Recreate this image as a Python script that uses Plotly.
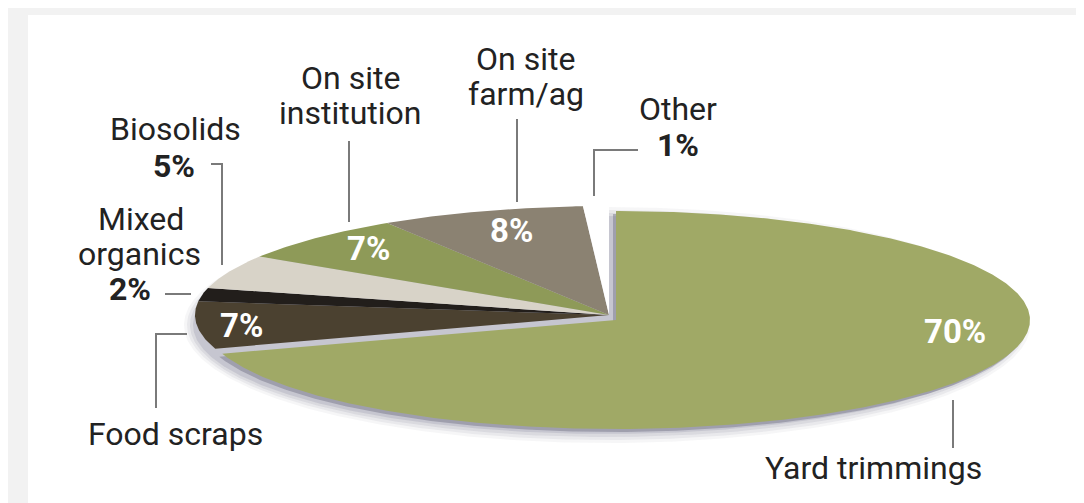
import numpy as np
import plotly.graph_objects as go

# data
categories = ["Yard trimmings", "Food scraps", "Mixed organics", "Biosolids",
              "On site institution", "On site farm/ag", "Other"]
shares = [70, 7, 2, 5, 7, 8, 1]
slice_colors = ["#a0a966", "#4b4130", "#221e1b", "#d8d3c8", "#8e9a58", "#8b8272", "#ffffff"]

# ellipse geometry (pixels), pie is drawn in pixel space
CX, CY = 601, 307
RX, RY = 414, 109
PULL = {0: (7, 5)}          # yard trimmings slice is pulled out a little

FONT = "Roboto"
DARK = "#222222"
LEADER = "#7a7a7a"
LABEL_SIZE = 32


def ellipse_pts(t0, t1, dx=0, dy=0, rx=RX, ry=RY):
    n = max(int((t1 - t0) / 0.5) + 2, 3)
    rad = np.radians(np.linspace(t0, t1, n))
    return CX + dx + rx * np.sin(rad), CY + dy - ry * np.cos(rad)


def wedge(t0, t1, dx=0, dy=0):
    xs, ys = ellipse_pts(t0, t1, dx, dy)
    return (np.concatenate([[CX + dx], xs, [CX + dx]]),
            np.concatenate([[CY + dy], ys, [CY + dy]]))


fig = go.Figure()

# soft drop shadow under the pie
for grow, alpha in [(9, 0.05), (6, 0.07), (3, 0.09), (0, 0.13)]:
    xs, ys = ellipse_pts(0, 360, -2, 10, RX + grow, RY + grow)
    fig.add_trace(go.Scatter(x=xs, y=ys, mode="lines", fill="toself",
                             fillcolor=f"rgba(70,70,105,{alpha})",
                             line=dict(width=0), hoverinfo="skip", showlegend=False))

# slices, clockwise from 12 o'clock
total = sum(shares)
bounds = []
start = 0.0
for v in shares:
    end = start + 360.0 * v / total
    bounds.append((start, end))
    start = end

# shadow of the pulled-out slice
for i, (dx, dy) in PULL.items():
    xs, ys = wedge(*bounds[i], dx - 3, dy + 3)
    fig.add_trace(go.Scatter(x=xs, y=ys, mode="lines", fill="toself",
                             fillcolor="rgba(110,110,130,0.45)", line=dict(width=0),
                             hoverinfo="skip", showlegend=False))

for i, (name, c) in enumerate(zip(categories, slice_colors)):
    dx, dy = PULL.get(i, (0, 0))
    xs, ys = wedge(*bounds[i], dx, dy)
    fig.add_trace(go.Scatter(x=xs, y=ys, mode="lines", fill="toself", fillcolor=c,
                             line=dict(width=0), name=name, hoverinfo="skip",
                             showlegend=False))

# white percentages inside the slices: (index, x, y)
inside = [(0, 947, 323), (5, 503, 222), (4, 360, 240), (1, 233, 317)]
annotations = []
for i, x, y in inside:
    annotations.append(dict(x=x, y=y, text=f"<b>{shares[i]}%</b>", showarrow=False,
                            font=dict(family=FONT, size=33, color="white"),
                            xanchor="center", yanchor="middle", borderpad=0))

# outer labels, one line each: (text, x, y, bold)
outer = [
    ("On site", 342, 70, False), ("institution", 342, 105, False),
    ("On site", 517, 51, False), ("farm/ag", 518, 86, False),
    ("Other", 670, 101, False), (f"{shares[6]}%", 670, 137, True),
    ("Biosolids", 167, 121, False), (f"{shares[3]}%", 166, 158, True),
    ("Mixed", 133, 211, False), ("organics", 131, 246, False), (f"{shares[2]}%", 122, 281, True),
    ("Food scraps", 167, 426, False),
    ("Yard trimmings", 865, 460, False),
]
for text, x, y, bold in outer:
    annotations.append(dict(x=x, y=y, text=f"<b>{text}</b>" if bold else text, showarrow=False,
                            font=dict(family=FONT, size=LABEL_SIZE, color=DARK),
                            xanchor="center", yanchor="middle", borderpad=0))

# leader lines
leaders = [
    [(341, 133), (341, 214)],
    [(509, 111), (509, 194)],
    [(586, 188), (586, 142), (630, 142)],
    [(203, 156), (214, 156), (214, 257)],
    [(157, 286), (183, 286)],
    [(179, 326), (148, 326), (148, 400)],
    [(945, 392), (945, 440)],
]
shapes = [dict(type="rect", x0=20, x1=1075, y0=7, y1=510, fillcolor="white",
               line=dict(width=0), layer="below")]
for pts in leaders:
    path = "M " + " L ".join(f"{x},{y}" for x, y in pts)
    shapes.append(dict(type="path", path=path, line=dict(color=LEADER, width=2)))

fig.update_layout(
    width=1084, height=503,
    margin=dict(l=0, r=0, t=0, b=0),
    paper_bgcolor="#f2f2f2", plot_bgcolor="rgba(0,0,0,0)",
    xaxis=dict(range=[0, 1084], visible=False, fixedrange=True),
    yaxis=dict(range=[503, 0], visible=False, fixedrange=True),
    annotations=annotations, shapes=shapes,
    showlegend=False,
)

fig.write_html("out.html")
